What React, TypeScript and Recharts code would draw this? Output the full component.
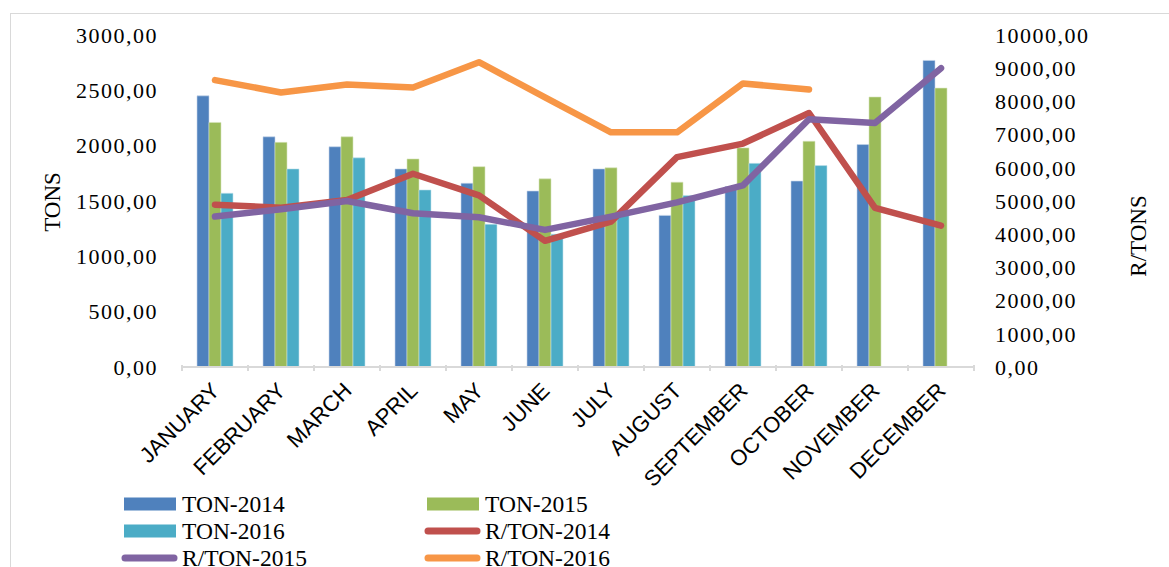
import React from "react";
import {
  ComposedChart,
  Bar,
  Line,
  XAxis,
  YAxis,
  Legend,
} from "recharts";

const months = [
  "JANUARY", "FEBRUARY", "MARCH", "APRIL", "MAY", "JUNE",
  "JULY", "AUGUST", "SEPTEMBER", "OCTOBER", "NOVEMBER", "DECEMBER",
];

const ton2014 = [2450, 2080, 1990, 1790, 1660, 1590, 1790, 1370, 1630, 1680, 2010, 2770];
const ton2015 = [2210, 2030, 2080, 1880, 1810, 1700, 1800, 1670, 1980, 2040, 2440, 2520];
const ton2016 = [1570, 1790, 1890, 1600, 1290, 1200, 1380, 1550, 1840, 1820, null, null];

const rton2014 = [4890, 4800, 5030, 5820, 5170, 3800, 4380, 6320, 6730, 7650, 4790, 4260];
const rton2015 = [4530, 4750, 5000, 4630, 4510, 4130, 4530, 4960, 5470, 7460, 7350, 9000];
const rton2016 = [8640, 8270, 8510, 8420, 9180, 8120, 7070, 7070, 8540, 8360, null, null];

const tonTicks = [0, 500, 1000, 1500, 2000, 2500, 3000];
const rtonTicks = [0, 1000, 2000, 3000, 4000, 5000, 6000, 7000, 8000, 9000, 10000];

const legendItems = [
  { name: "TON-2014", color: "#4F81BD", kind: "bar" },
  { name: "TON-2015", color: "#9BBB59", kind: "bar" },
  { name: "TON-2016", color: "#4BACC6", kind: "bar" },
  { name: "R/TON-2014", color: "#C0504D", kind: "line" },
  { name: "R/TON-2015", color: "#8064A2", kind: "line" },
  { name: "R/TON-2016", color: "#F79646", kind: "line" },
];

const data = months.map((m, i) => ({
  month: m,
  ton2014: ton2014[i],
  ton2015: ton2015[i],
  ton2016: ton2016[i],
  rton2014: rton2014[i],
  rton2015: rton2015[i],
  rton2016: rton2016[i],
}));

const fmt = (v: number) => v.toFixed(2).replace(".", ",");
const serif = "'Liberation Serif', 'Times New Roman', serif";
const sans = "'Liberation Sans', Arial, sans-serif";

function MonthTick(props: any) {
  const { x, y, payload, index, visibleTicksCount } = props;
  const half = payload.offset || 33;
  const last = index === (visibleTicksCount || 12) - 1;
  const tx = x + 6;
  const ty = y + 17;
  return (
    <g>
      <line x1={x - half} x2={x - half} y1={y - 10} y2={y - 4} stroke="#D9D9D9" strokeWidth={2} />
      {last && (
        <line x1={x + half} x2={x + half} y1={y - 10} y2={y - 4} stroke="#D9D9D9" strokeWidth={2} />
      )}
      <text
        x={tx}
        y={ty}
        transform={`rotate(-45, ${tx}, ${ty})`}
        textAnchor="end"
        fontFamily={sans}
        fontSize={22}
        fill="#000"
      >
        {payload.value}
      </text>
    </g>
  );
}

// axis titles, placed from the axis viewBox
function AxisTitle(props: any) {
  const { viewBox, value, dx, dy } = props;
  const cx = viewBox.x + dx;
  const cy = viewBox.y + viewBox.height / 2 + dy;
  return (
    <text
      x={cx}
      y={cy}
      transform={`rotate(-90, ${cx}, ${cy})`}
      textAnchor="middle"
      dominantBaseline="central"
      fontFamily={serif}
      fontSize={23}
      fill="#000"
    >
      {value}
    </text>
  );
}

function ChartLegend() {
  return (
    <div
      style={{
        display: "grid",
        gridTemplateColumns: "303px 300px",
        fontFamily: serif,
        fontSize: 23.5,
        color: "#000",
      }}
    >
      {legendItems.map((it) => (
        <div key={it.name} style={{ display: "flex", alignItems: "center", height: 27 }}>
          <svg width={57} height={14} style={{ marginRight: 4 }}>
            {it.kind === "bar" ? (
              <rect x={3} y={0.5} width={52} height={13} fill={it.color} />
            ) : (
              <line x1={4} x2={53} y1={7} y2={7} stroke={it.color} strokeWidth={7} strokeLinecap="round" />
            )}
          </svg>
          <span style={{ lineHeight: "20px" }}>{it.name}</span>
        </div>
      ))}
    </div>
  );
}

export default function App() {
  return (
    <div style={{ position: "absolute", left: 0, top: 0, width: 1169, height: 567, background: "#fff", overflow: "hidden" }}>
      <div
        style={{
          position: "absolute",
          left: 10,
          top: 13,
          width: 1160,
          height: 600,
          border: "1px solid #D9D9D9",
        }}
      />
      <div style={{ position: "absolute", left: 0, top: 0 }}>
        <ComposedChart
          width={1169}
          height={567}
          data={data}
          margin={{ top: 35, right: 0, bottom: 0, left: 0 }}
          barGap={0}
          barSize={12}
        >
          <XAxis
            dataKey="month"
            height={200}
            interval={0}
            tickLine={false}
            axisLine={{ stroke: "#D9D9D9", strokeWidth: 2 }}
            tick={<MonthTick />}
          />
          <YAxis
            yAxisId="left"
            orientation="left"
            width={182}
            domain={[0, 3000]}
            ticks={tonTicks}
            tickFormatter={fmt}
            axisLine={false}
            tickLine={false}
            tickSize={0}
            tickMargin={24}
            tick={{ fontFamily: serif, fontSize: 22, fill: "#000", letterSpacing: 1.5 }}
            label={<AxisTitle value="TONS" dx={52} dy={1} />}
          />
          <YAxis
            yAxisId="right"
            orientation="right"
            width={195}
            domain={[0, 10000]}
            ticks={rtonTicks}
            tickFormatter={fmt}
            axisLine={false}
            tickLine={false}
            tickSize={0}
            tickMargin={21}
            tick={{ fontFamily: serif, fontSize: 22, fill: "#000", textAnchor: "start", letterSpacing: 1.5 }}
            label={<AxisTitle value="R/TONS" dx={164} dy={35} />}
          />
          <Bar yAxisId="left" dataKey="ton2014" name="TON-2014" fill="#4F81BD" stroke="#C6D5EA" strokeWidth={0.6} isAnimationActive={false} />
          <Bar yAxisId="left" dataKey="ton2015" name="TON-2015" fill="#9BBB59" stroke="#D6E4BD" strokeWidth={0.6} isAnimationActive={false} />
          <Bar yAxisId="left" dataKey="ton2016" name="TON-2016" fill="#4BACC6" stroke="#C4E3EC" strokeWidth={0.6} isAnimationActive={false} />
          <Line yAxisId="right" type="linear" dataKey="rton2014" name="R/TON-2014" stroke="#C0504D" strokeWidth={6.5} strokeLinecap="round" strokeLinejoin="round" dot={false} isAnimationActive={false} />
          <Line yAxisId="right" type="linear" dataKey="rton2015" name="R/TON-2015" stroke="#8064A2" strokeWidth={6.5} strokeLinecap="round" strokeLinejoin="round" dot={false} isAnimationActive={false} />
          <Line yAxisId="right" type="linear" dataKey="rton2016" name="R/TON-2016" stroke="#F79646" strokeWidth={6.5} strokeLinecap="round" strokeLinejoin="round" dot={false} isAnimationActive={false} />
          <Legend
            layout="horizontal"
            verticalAlign="middle"
            align="center"
            wrapperStyle={{ left: 121, top: 490, width: 620 }}
            content={() => <ChartLegend />}
          />
        </ComposedChart>
      </div>
    </div>
  );
}
